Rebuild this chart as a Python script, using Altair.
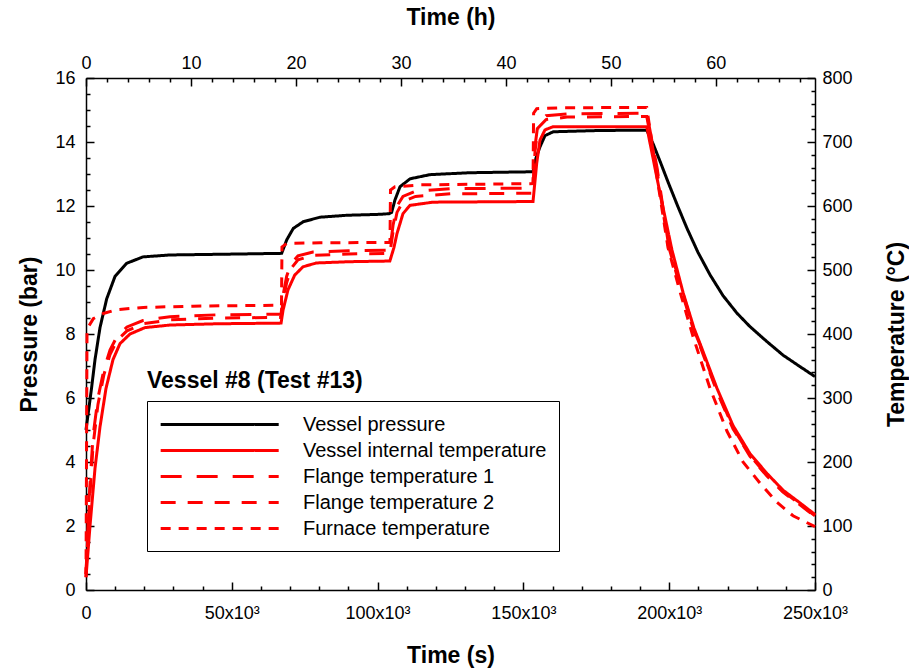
import altair as alt
import pandas as pd

# ---------------- data ----------------
series_names = ["Vessel pressure", "Vessel internal temperature",
                "Flange temperature 1", "Flange temperature 2", "Furnace temperature"]

# Vessel pressure (bar)
p_time = [0, 1890, 3090, 4800, 7100, 9950, 13960, 19550, 28800, 52800, 66870,
          67100, 68830, 71090, 74520, 80250, 89400, 100820, 103910,
          104800, 105960, 107680, 111110, 117970, 131690, 153300,
          154320, 155690, 157410, 160270, 176270, 192300,
          194450, 196850, 199600, 202680, 206110, 209880, 214000, 218450,
          223250, 227710, 233540, 239030, 244860, 250000]
p_val = [5.0, 6.3, 7.2, 8.2, 9.1, 9.8, 10.21, 10.41, 10.47, 10.5, 10.52,
         10.52, 10.94, 11.3, 11.51, 11.65, 11.71, 11.74, 11.76,
         11.8, 12.19, 12.6, 12.85, 12.98, 13.04, 13.07,
         13.5, 13.85, 14.2, 14.32, 14.36, 14.37,
         13.95, 13.4, 12.75, 12.05, 11.3, 10.55, 9.85, 9.2,
         8.65, 8.23, 7.76, 7.34, 6.98, 6.67]

# Vessel internal temperature (degC)
ti_time = [0, 1372, 3086, 4801, 6859, 9259, 11660, 15089, 20233, 28807, 45000, 66900,
           67560, 69270, 71570, 74420, 79000, 90530, 104200,
           105600, 106650, 108700, 111100, 119000, 153300,
           154570, 155690, 157410, 160270, 192300,
           196850, 200960, 204740, 208510, 210570, 216400, 221880, 227710,
           233540, 239030, 244860, 250000]
ti_val = [20, 100, 190, 255, 315, 360, 385, 400, 410, 414, 416, 417,
          437, 469, 492, 505, 511, 513, 514,
          535, 557, 588, 601, 606, 607,
          667, 703, 719, 724, 724,
          620, 531, 465, 409, 385, 315, 257, 213,
          182, 156, 136, 118]

# Flange temperatures (degC)
fl_time = [0, 1029, 2400, 4100, 6170, 8230, 10630, 14060, 19550, 28800, 45000, 66900,
           67560, 68800, 70290, 72700, 77850, 90000, 104200,
           105300, 106650, 108700, 113000, 125000, 153300,
           153980, 155000, 157750, 165000, 192300,
           195820, 199590, 203710, 208510, 210570, 216400, 221880, 227710,
           233540, 239030, 244860, 250000]
f1_val = [25, 140, 240, 300, 345, 375, 396, 411, 421, 427, 430, 431,
          460, 490, 510, 522, 528, 530, 531,
          570, 600, 615, 623, 627, 628,
          693, 729, 741, 744, 745,
          660, 545, 478, 406, 383, 312, 254, 210,
          179, 154, 134, 116]
f2_val = [25, 125, 225, 290, 337, 368, 390, 405, 416, 422, 425, 426,
          450, 480, 502, 516, 523, 525, 526,
          560, 590, 607, 615, 619, 620,
          685, 722, 735, 739, 740,
          655, 540, 475, 404, 381, 310, 252, 209,
          178, 153, 133, 115]

# Furnace temperature (degC)
fu_time = [0, 170, 343, 690, 2500, 5930, 10530, 19650, 36700, 66870,
           67040, 67210, 68840, 80250, 104080,
           104250, 104420, 105960, 114500, 153300,
           153500, 154570, 162560, 192300,
           195820, 199590, 203710, 208170, 214000, 219830, 225310, 231140,
           236970, 242460, 250000]
fu_val = [20, 200, 400, 410, 424, 432, 438, 441.5, 443.5, 445,
          445, 536, 541.5, 542.5, 543,
          543, 625, 630, 633, 635,
          745, 752, 753.5, 754,
          645, 535, 466, 396, 315, 248, 200, 167,
          137, 116, 99]

# axis ticks
x_ticks = list(range(0, 250001, 10000))
h_ticks = list(range(0, 69, 2))
p_ticks = [i * 0.5 for i in range(33)]
t_ticks = list(range(0, 801, 20))

# ---------------- tables ----------------
press_df = pd.DataFrame({"t": p_time, "v": p_val, "series": series_names[0], "order": range(len(p_time))})
temp_frames = [
    pd.DataFrame({"t": ti_time, "v": ti_val, "series": series_names[1]}),
    pd.DataFrame({"t": fl_time, "v": f1_val, "series": series_names[2]}),
    pd.DataFrame({"t": fl_time, "v": f2_val, "series": series_names[3]}),
    pd.DataFrame({"t": fu_time, "v": fu_val, "series": series_names[4]}),
]
for f in temp_frames:
    f["order"] = range(len(f))
temp_df = pd.concat(temp_frames, ignore_index=True)
hours_df = pd.DataFrame({"h": [0.0]})

FONT = "Liberation Sans"
W, H = 729, 512

color_scale = alt.Scale(domain=series_names, range=["#000000", "#ff0000", "#ff0000", "#ff0000", "#ff0000"])
dash_scale = alt.Scale(domain=series_names, range=[[1, 0], [1, 0], [21, 15], [15, 12], [10, 8]])

# long horizontal legend stroke (custom path, 12 half-sizes long)
legend = alt.Legend(
    title=None, orient="none", legendX=61, legendY=323,
    strokeColor="black", fillColor="white", padding=12, rowPadding=4,
    symbolType="M-1,0H11", symbolSize=387, symbolStrokeWidth=3,
    labelFont=FONT, labelFontSize=20, labelColor="black", labelOffset=121,
    labelLimit=400,
)

common_axis = dict(
    grid=False, domainColor="black", domainWidth=1.5, tickColor="black", tickWidth=1.5,
    labelFont=FONT, labelFontSize=18, labelColor="black", labelFlush=False, labelOverlap=False,
    titleFont=FONT, titleFontSize=23, titleFontWeight="bold", titleColor="black",
    titleBaseline="middle", titleAlign="center",
)

x_s = alt.X("t:Q", scale=alt.Scale(domain=[0, 250000], nice=False),
            axis=alt.Axis(orient="bottom", title="Time (s)", values=x_ticks,
                          tickSize={"expr": "datum.value % 50000 === 0 ? -8 : -4"},
                          labelExpr="datum.value % 50000 === 0 ? (datum.value === 0 ? '0' : format(datum.value/1000, 'd') + 'x10³') : ''",
                          labelPadding=22, titleX=W / 2, titleY=65, titleAngle=0, **common_axis))

pressure = alt.Chart(press_df).mark_line(strokeWidth=3).encode(
    x=x_s,
    y=alt.Y("v:Q", scale=alt.Scale(domain=[0, 16], nice=False),
            axis=alt.Axis(orient="left", title="Pressure (bar)", values=p_ticks,
                          tickSize={"expr": "datum.value % 2 === 0 ? -8 : -4"},
                          labelExpr="datum.value % 2 === 0 ? format(datum.value, 'd') : ''",
                          labelPadding=19, titleX=-57, titleY=H / 2, titleAngle=270, **common_axis)),
    color=alt.Color("series:N", scale=color_scale, legend=legend, title=None),
    strokeDash=alt.StrokeDash("series:N", scale=dash_scale, legend=legend, title=None),
    order="order:Q",
)

temperature = alt.Chart(temp_df).mark_line(strokeWidth=3).encode(
    x=alt.X("t:Q", scale=alt.Scale(domain=[0, 250000], nice=False), axis=None),
    y=alt.Y("v:Q", scale=alt.Scale(domain=[0, 800], nice=False),
            axis=alt.Axis(orient="right", title="Temperature (°C)", values=t_ticks,
                          tickSize={"expr": "datum.value % 100 === 0 ? -8 : -4"},
                          labelExpr="datum.value % 100 === 0 ? format(datum.value, 'd') : ''",
                          labelPadding=15, titleX=81, titleY=H / 2, titleAngle=270, **common_axis)),
    color=alt.Color("series:N", scale=color_scale, legend=legend, title=None),
    strokeDash=alt.StrokeDash("series:N", scale=dash_scale, legend=legend, title=None),
    detail="series:N",
    order="order:Q",
)

hours = alt.Chart(hours_df).mark_point(opacity=0).encode(
    x=alt.X("h:Q", scale=alt.Scale(domain=[0, 250000 / 3600], nice=False),
            axis=alt.Axis(orient="top", title="Time (h)", values=h_ticks,
                          tickSize={"expr": "datum.value % 10 === 0 ? -8 : -4"},
                          labelExpr="datum.value % 10 === 0 ? format(datum.value, 'd') : ''",
                          labelPadding=14, titleX=W / 2, titleY=-61, titleAngle=0, **common_axis)),
    y=alt.value(0),
)

note = alt.Chart(hours_df).mark_text(
    text="Vessel #8 (Test #13)", font=FONT, fontSize=23, fontWeight="bold",
    align="left", baseline="middle", color="black",
).encode(x=alt.value(61), y=alt.value(303))

chart = alt.layer(pressure, temperature, hours, note).resolve_scale(
    x="independent", y="independent"
).properties(
    width=W, height=H,
    autosize=alt.AutoSizeParams(type="none"),
    padding={"left": 86, "top": 78, "right": 94, "bottom": 82},
).configure_view(stroke=None).configure(background="white")

chart.save("out.html", embed_options={"renderer": "svg", "actions": False})
